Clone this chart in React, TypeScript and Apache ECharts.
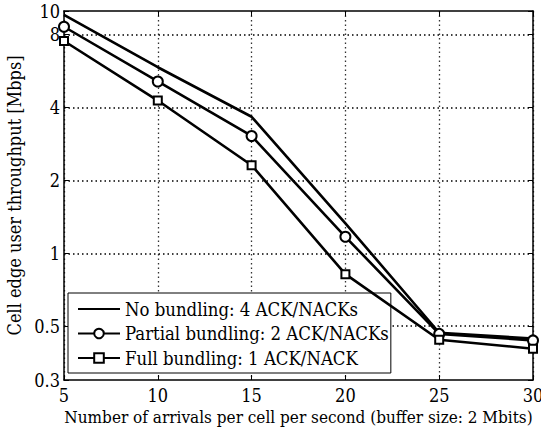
import React, { useEffect, useRef } from "react";
import * as echarts from "echarts";

const arrivals = [5, 10, 15, 20, 25, 30];
const noBundling = [9.63, 5.86, 3.66, 1.33, 0.47, 0.445];
const partialBundling = [8.61, 5.12, 3.05, 1.17, 0.465, 0.437];
const fullBundling = [7.52, 4.27, 2.31, 0.82, 0.44, 0.404];
const yTicks = [0.3, 0.5, 1, 2, 4, 8, 10];
const yGrid = [0.5, 1, 2, 4, 8];
const seriesNames = [
  "No bundling: 4 ACK/NACKs",
  "Partial bundling: 2 ACK/NACKs",
  "Full bundling: 1 ACK/NACK",
];

const FONT = "DejaVu Serif Condensed";
const lg = (v: number) => Math.log10(v);

export default function App() {
  const ref = useRef<HTMLDivElement>(null);
  useEffect(() => {
    if (!ref.current) return;
    const chart = echarts.init(ref.current, null, { renderer: "svg" });
    const toData = (vals: number[]) => arrivals.map((x, i) => [x, lg(vals[i])]);
    const logTicks = yTicks.map(lg);
    const lineCommon = {
      type: "line" as const,
      xAxisIndex: 0,
      yAxisIndex: 0,
      lineStyle: { color: "#000", width: 2.6 },
      itemStyle: { color: "#000", borderColor: "#000", borderWidth: 2.5 },
      color: "#000",
      z: 5,
    };
    chart.setOption({
      animation: false,
      textStyle: { fontFamily: FONT, color: "#000" },
      grid: { left: 64, right: 8, top: 11, bottom: 51, containLabel: false, outerBoundsMode: "none" },
      legend: {
        show: true,
        orient: "vertical",
        left: 68,
        top: 293,
        padding: [7, 2, 6, 9],
        itemGap: 6.5,
        itemWidth: 42,
        itemHeight: 12,
        borderColor: "#000",
        borderWidth: 1,
        borderRadius: 0,
        backgroundColor: "#fff",
        textStyle: { fontFamily: FONT, fontSize: 18.4, color: "#000" },
        data: [
          { name: seriesNames[0], itemStyle: { opacity: 0 } },
          { name: seriesNames[1] },
          { name: seriesNames[2] },
        ],
      },
      xAxis: [
        {
          type: "value",
          min: 5,
          max: 30,
          interval: 5,
          name: "Number of arrivals per cell per second (buffer size: 2 Mbits)",
          nameLocation: "middle",
          nameGap: 27,
          nameTextStyle: { fontFamily: FONT, fontSize: 17, color: "#000" },
          axisLine: { show: true, onZero: false, lineStyle: { color: "#000", width: 1.5 } },
          axisTick: { show: true, inside: true, length: 5, lineStyle: { color: "#000" } },
          axisLabel: { fontFamily: FONT, fontSize: 18, color: "#000", margin: 6 },
          splitLine: { show: true, lineStyle: { color: "#333", width: 1.3, type: [1.5, 3] } },
        },
        {
          type: "value",
          position: "top",
          min: 5,
          max: 30,
          interval: 5,
          axisLine: { show: true, onZero: false, lineStyle: { color: "#000", width: 1.5 } },
          axisTick: { show: true, inside: true, length: 5, lineStyle: { color: "#000" } },
          axisLabel: { show: false },
          splitLine: { show: false },
        },
      ],
      yAxis: [
        {
          type: "value",
          min: lg(0.3),
          max: 1,
          name: "Cell edge user throughput [Mbps]",
          nameLocation: "middle",
          nameGap: 33,
          nameTextStyle: { fontFamily: FONT, fontSize: 18, color: "#000" },
          axisLine: { show: true, onZero: false, lineStyle: { color: "#000", width: 1.5 } },
          axisTick: {
            show: true,
            inside: true,
            length: 5,
            customValues: logTicks,
            lineStyle: { color: "#000" },
          },
          axisLabel: {
            fontFamily: FONT,
            fontSize: 18,
            color: "#000",
            margin: 4,
            customValues: logTicks,
            formatter: (v: number) => String(Number(Math.pow(10, v).toPrecision(2))),
          },
          splitLine: { show: false },
        },
        {
          type: "value",
          position: "right",
          min: lg(0.3),
          max: 1,
          axisLine: { show: true, onZero: false, lineStyle: { color: "#000", width: 1.5 } },
          axisTick: {
            show: true,
            inside: true,
            length: 5,
            customValues: logTicks,
            lineStyle: { color: "#000" },
          },
          axisLabel: { show: false },
          splitLine: { show: false },
        },
      ],
      series: [
        {
          ...lineCommon,
          name: seriesNames[0],
          symbol: "none",
          data: toData(noBundling),
          markLine: {
            silent: true,
            symbol: "none",
            label: { show: false },
            lineStyle: { color: "#000", width: 1.5, type: [1.5, 3] },
            z: 1,
            data: yGrid.map((v) => ({ yAxis: lg(v) })),
          },
        },
        {
          ...lineCommon,
          name: seriesNames[1],
          symbol: "emptyCircle",
          symbolSize: 10,
          data: toData(partialBundling),
        },
        {
          ...lineCommon,
          name: seriesNames[2],
          symbol: "emptyRect",
          symbolSize: 8,
          data: toData(fullBundling),
        },
      ],
    });
    return () => chart.dispose();
  }, []);
  return (
    <div
      ref={ref}
      style={{ position: "fixed", left: 0, top: 0, width: 541, height: 431, background: "#fff" }}
    />
  );
}
